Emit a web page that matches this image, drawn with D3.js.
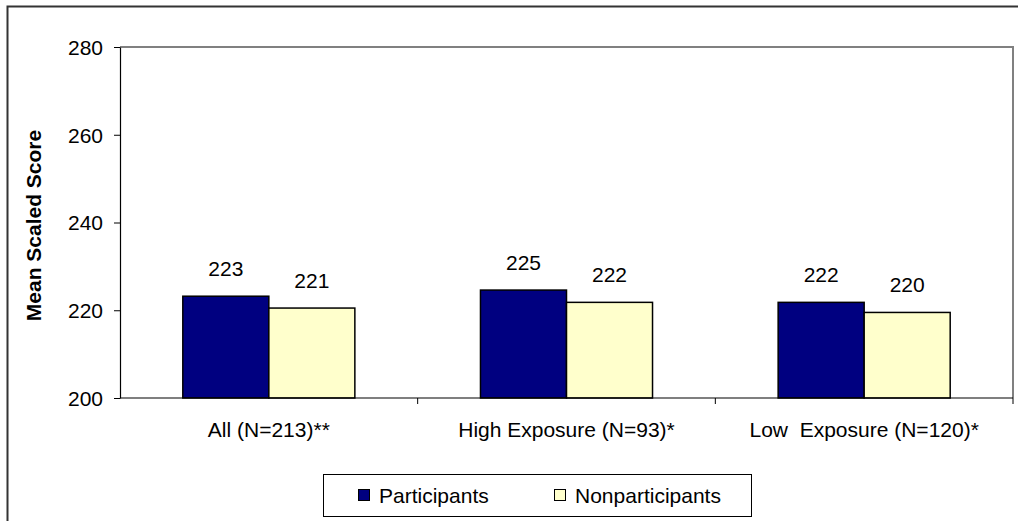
<!DOCTYPE html>
<html>
<head>
<meta charset="utf-8">
<script src="https://cdn.jsdelivr.net/npm/d3@7"></script>
<style>
  html, body { margin: 0; padding: 0; background: #fff; overflow: hidden; }
  text { font-family: "Liberation Sans", Arial, sans-serif; fill: #000; }
</style>
</head>
<body>
<div id="chart"></div>
<script>
// Chart data
const categories = ["All (N=213)**", "High Exposure (N=93)*", "Low  Exposure (N=120)*"];
const seriesNames = ["Participants", "Nonparticipants"];
const participants = [223.2, 224.6, 221.8];
const nonparticipants = [220.5, 221.8, 219.5];
const yTicks = [200, 220, 240, 260, 280];
const seriesColors = ["#000080", "#FFFFCC"];

const width = 1018;
const height = 521;
const plot = { left: 120, top: 47, right: 1013, bottom: 398 };
const fontSize = 21;

const rows = categories.map((c, i) => ({
    category: c,
    values: [participants[i], nonparticipants[i]]
}));

const svg = d3.select("#chart")
    .append("svg")
    .attr("width", width)
    .attr("height", height);

// outer chart border (runs off the right and bottom edges)
svg.append("rect")
    .attr("x", 7.5)
    .attr("y", 6.5)
    .attr("width", width + 20)
    .attr("height", height + 20)
    .attr("fill", "none")
    .attr("stroke", "#333")
    .attr("stroke-width", 2);

const x = d3.scaleBand()
    .domain(categories)
    .range([plot.left, plot.right])
    .padding(0);

const groupWidth = x.bandwidth() * 0.578;
const x1 = d3.scaleBand()
    .domain(d3.range(seriesNames.length))
    .range([0, groupWidth])
    .padding(0);

const y = d3.scaleLinear()
    .domain([200, 280])
    .range([plot.bottom, plot.top]);

// plot area border (top + right, gray)
svg.append("path")
    .attr("d", `M${plot.left},${plot.top}H${plot.right}V${plot.bottom}`)
    .attr("fill", "none")
    .attr("stroke", "#808080")
    .attr("stroke-width", 2);

// y axis
const yAxis = d3.axisLeft(y)
    .tickValues(yTicks)
    .tickSize(6)
    .tickSizeOuter(0)
    .tickPadding(11);

const gy = svg.append("g")
    .attr("transform", `translate(${plot.left},0)`)
    .call(yAxis);
gy.select(".domain").attr("stroke", "#000").attr("stroke-width", 1.2);
gy.selectAll(".tick line").attr("stroke", "#000");
gy.selectAll(".tick text")
    .style("font-size", fontSize + "px")
    .attr("dy", "0.35em");

// y axis title
svg.append("text")
    .attr("transform", `translate(41,${(plot.top + plot.bottom) / 2 + 3}) rotate(-90)`)
    .attr("text-anchor", "middle")
    .style("font-size", fontSize + "px")
    .style("font-weight", "bold")
    .text("Mean Scaled Score");

// bars
const groups = svg.selectAll(".group")
    .data(rows)
    .enter()
    .append("g")
    .attr("class", "group")
    .attr("transform", d => `translate(${x(d.category) + (x.bandwidth() - groupWidth) / 2},0)`);

groups.selectAll("rect")
    .data(d => d.values)
    .enter()
    .append("rect")
    .attr("x", (d, i) => x1(i))
    .attr("y", d => y(d))
    .attr("width", x1.bandwidth())
    .attr("height", d => y(200) - y(d))
    .attr("fill", (d, i) => seriesColors[i])
    .attr("stroke", "#000")
    .attr("stroke-width", 1.5);

groups.selectAll(".val")
    .data(d => d.values)
    .enter()
    .append("text")
    .attr("class", "val")
    .attr("x", (d, i) => x1(i) + x1.bandwidth() / 2)
    .attr("y", d => y(d) - 20)
    .attr("text-anchor", "middle")
    .style("font-size", fontSize + "px")
    .text(d => d.toFixed(0));

// x axis line and tick marks at category boundaries
svg.append("line")
    .attr("x1", plot.left)
    .attr("x2", plot.right)
    .attr("y1", plot.bottom)
    .attr("y2", plot.bottom)
    .attr("stroke", "#000")
    .attr("stroke-width", 1.2);

const boundaries = categories.slice(1).map(c => x(c)).concat([x.range()[1]]);
svg.selectAll(".xtick")
    .data(boundaries)
    .enter()
    .append("line")
    .attr("class", "xtick")
    .attr("x1", d => d)
    .attr("x2", d => d)
    .attr("y1", plot.bottom)
    .attr("y2", plot.bottom + 6)
    .attr("stroke", "#000");

svg.selectAll(".xlabel")
    .data(categories)
    .enter()
    .append("text")
    .attr("class", "xlabel")
    .attr("x", d => x(d) + x.bandwidth() / 2)
    .attr("y", 437)
    .attr("text-anchor", "middle")
    .style("font-size", fontSize + "px")
    .style("white-space", "pre")
    .attr("xml:space", "preserve")
    .text(d => d);

// legend
const legend = svg.append("g");
legend.append("rect")
    .attr("x", 323.5)
    .attr("y", 474.5)
    .attr("width", 428)
    .attr("height", 42)
    .attr("fill", "#fff")
    .attr("stroke", "#000")
    .attr("stroke-width", 1);

const legendX = [358, 554];
seriesNames.forEach((name, i) => {
    legend.append("rect")
        .attr("x", legendX[i] + 0.5)
        .attr("y", 489.5)
        .attr("width", 11)
        .attr("height", 11)
        .attr("fill", seriesColors[i])
        .attr("stroke", "#000")
        .attr("stroke-width", 1);
    legend.append("text")
        .attr("x", legendX[i] + 21)
        .attr("y", 503)
        .style("font-size", fontSize + "px")
        .text(name);
});
</script>
</body>
</html>
